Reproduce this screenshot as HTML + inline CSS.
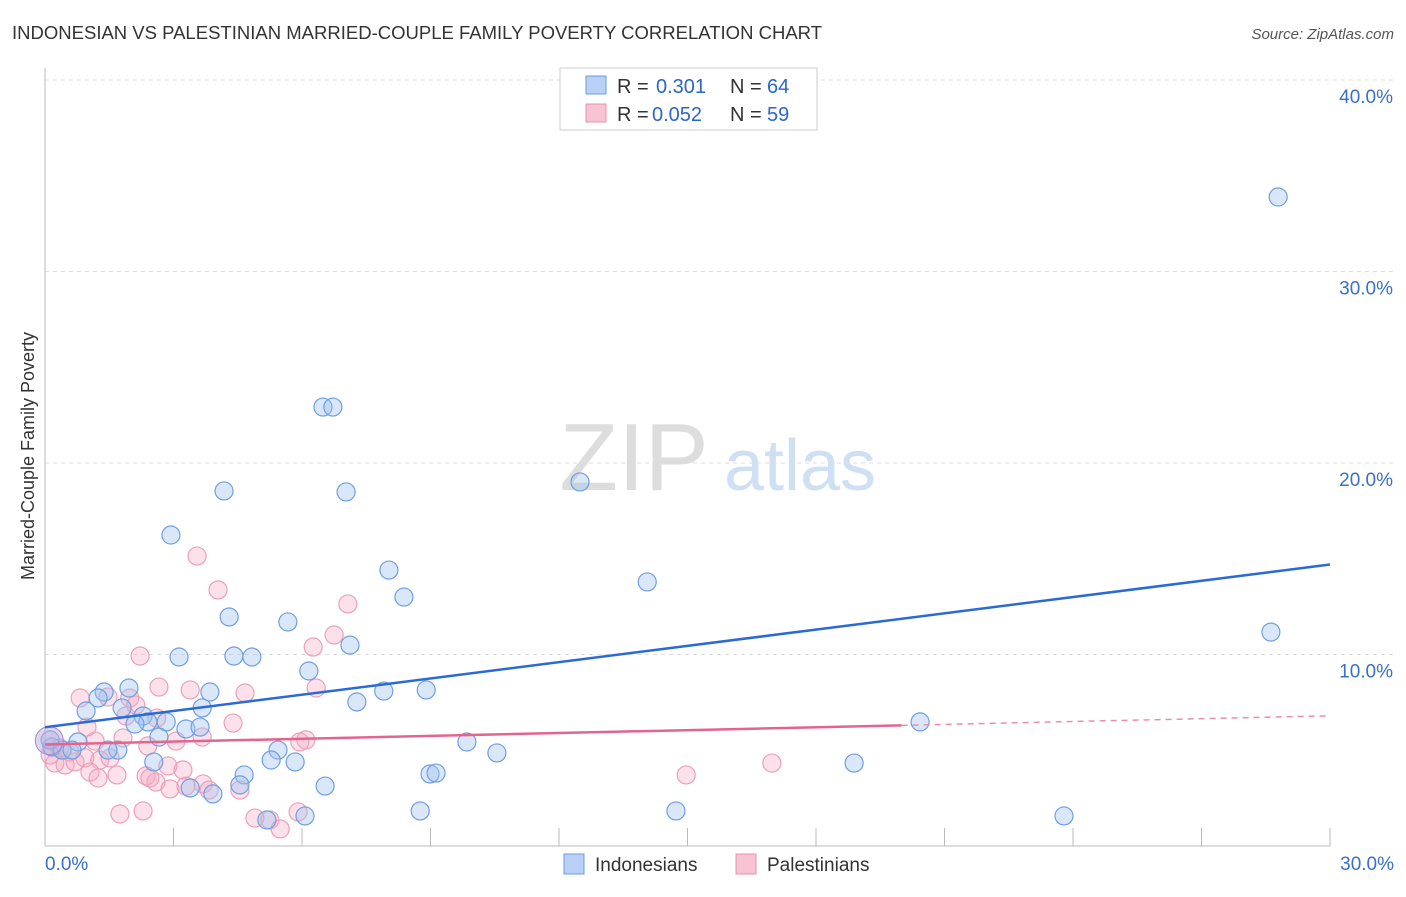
<!DOCTYPE html>
<html><head><meta charset="utf-8"><style>
body{margin:0;background:#fff;font-family:"Liberation Sans",sans-serif}
svg text{font-family:"Liberation Sans",sans-serif}
</style></head><body>
<svg id="c" width="1406" height="892">
<text x="12" y="39" font-size="18.5" fill="#333" textLength="810">INDONESIAN VS PALESTINIAN MARRIED-COUPLE FAMILY POVERTY CORRELATION CHART</text>
<text x="1394" y="39" font-size="15" fill="#555" font-style="italic" text-anchor="end">Source: ZipAtlas.com</text>
<text x="634" y="490" font-size="96" fill="#ddd" font-family="Liberation Serif" text-anchor="middle">ZIP</text>
<text x="800" y="490" font-size="72" fill="#cfe0f5" text-anchor="middle">atlas</text>
<text x="34" y="456" font-size="18" fill="#333" text-anchor="middle" transform="rotate(-90 34 456)">Married-Couple Family Poverty</text>
<g id="grid"></g><g id="pts"></g><g id="lines"></g>
<g>
<rect x="560" y="68" width="257" height="62" fill="#fff" stroke="#ccc"/>
<rect x="586" y="76" width="20" height="18" fill="#b8d0f5" stroke="#6a9be0"/>
<rect x="586" y="104" width="20" height="18" fill="#f8c4d4" stroke="#e890aa"/>
<text x="617" y="93" font-size="20" fill="#333">R = </text><text x="656" y="93" font-size="20" fill="#2b66c8">0.301</text>
<text x="730" y="93" font-size="20" fill="#333">N = </text><text x="767" y="93" font-size="20" fill="#2b66c8">64</text>
<text x="617" y="121" font-size="20" fill="#333">R = </text><text x="652" y="121" font-size="20" fill="#2b66c8">0.052</text>
<text x="730" y="121" font-size="20" fill="#333">N = </text><text x="767" y="121" font-size="20" fill="#2b66c8">59</text>
</g>
<g>
<rect x="564" y="854" width="20" height="20" fill="#b8d0f5" stroke="#6a9be0"/>
<text x="595" y="871" font-size="19" fill="#333">Indonesians</text>
<rect x="736" y="854" width="20" height="20" fill="#f8c4d4" stroke="#e890aa"/>
<text x="767" y="871" font-size="19" fill="#333">Palestinians</text>
</g>
</svg>
<script>
const yTicks=[10,20,30,40];
const yTickLabels=["10.0%","20.0%","30.0%","40.0%"];
const xTickLabels=["0.0%","30.0%"];
const indoX=[28.79,6.49,6.72,4.18,7.03,12.49,2.94,8.03,14.06,8.38,4.30,5.67,28.62,7.12,3.13,4.41,4.83,6.16,1.38,1.96,3.85,7.91,8.90,1.24,0.96,1.80,3.67,7.28,2.29,2.40,2.10,2.83,2.66,3.29,3.62,20.43,0.77,0.16,0.40,0.63,1.70,1.47,5.44,9.85,10.55,5.28,5.84,2.54,18.89,4.65,4.55,8.99,9.13,6.54,3.39,3.92,8.76,14.73,23.79,6.07,5.18,0.12];
const indoY=[33.89,22.92,22.92,18.54,18.49,19.01,16.24,14.41,13.79,13.0,11.96,11.70,11.17,10.49,9.87,9.92,9.87,9.14,8.04,8.25,8.04,8.09,8.15,7.73,7.05,7.21,7.21,7.52,6.79,6.48,6.37,6.48,5.69,6.11,6.21,6.48,5.43,5.17,5.01,5.01,5.01,5.01,5.01,5.43,4.86,4.49,4.39,4.39,4.33,3.71,3.19,3.76,3.81,3.13,3.03,2.72,1.83,1.83,1.57,1.57,1.36,5.54];
const palX=[3.55,4.04,7.07,6.75,6.26,2.22,0.82,2.66,3.39,4.67,6.33,1.47,1.98,1.89,2.12,2.61,4.39,3.67,3.06,6.09,5.95,2.40,1.17,1.82,0.98,0.35,0.58,0.93,1.28,1.52,0.23,0.47,0.70,0.12,1.05,1.68,1.24,2.36,2.87,3.22,2.59,2.45,3.29,2.92,3.69,3.83,4.55,14.97,16.97,1.75,2.29,4.90,5.25,5.49,5.91];
const palY=[15.14,13.37,12.64,11.02,10.39,9.92,7.73,8.30,8.15,7.99,8.25,7.78,7.73,6.79,7.36,6.68,6.42,5.69,5.48,5.54,5.43,5.22,5.48,5.64,6.21,5.12,4.91,4.60,4.49,4.60,4.33,4.23,4.39,4.75,3.86,3.71,3.55,3.66,4.18,3.97,3.34,3.55,3.13,2.98,3.24,2.92,2.92,3.71,4.33,1.67,1.83,1.46,1.36,0.89,1.78];
const indoTrend=[6.2,14.7];
const palTrend=[5.3,6.8];
const NS="http://www.w3.org/2000/svg";
const sx=v=>45+v*(1285/30), sy=v=>846-v*19.15;
function mk(t,a,p){const e=document.createElementNS(NS,t);for(const k in a)e.setAttribute(k,a[k]);p.appendChild(e);return e;}
const g=document.getElementById('grid');
yTicks.forEach((t,i)=>{
 const l=mk('line',{x1:45,x2:1394,y1:sy(t),y2:sy(t),stroke:'#ddd','stroke-dasharray':'4,4'},g);
 
 
 const tx=mk('text',{x:1393,y:sy(t)+23,'font-size':19,fill:'#3a70c8','text-anchor':'end'},g);
 tx.textContent=yTickLabels[i];
 
 
});
mk('line',{x1:45,x2:45,y1:68,y2:846,stroke:'#bbb'},g);
mk('line',{x1:45,x2:1330,y1:846,y2:846,stroke:'#bbb'},g);
for(let i=1;i<=10;i++){const x=sx(i*3);const l=mk('line',{x1:x,x2:x,y1:828,y2:846,stroke:'#bbb'},g);
 
 }
[[0,'start',45],[30,'end',1394]].forEach((d,i)=>{const t=mk('text',{x:d[2],y:870,'font-size':19,fill:'#3a70c8','text-anchor':d[1]},g);t.textContent=xTickLabels[i];
 
 });
const p=document.getElementById('pts');
function pts(X,Y,fill,stroke,name){X.forEach((x,i)=>{const c=mk('circle',{cx:sx(x),cy:sy(Y[i]),r:9,fill:fill,stroke:stroke,'stroke-width':1.2},p);
 
 });}
pts(palX,palY,'rgba(245,170,195,0.35)','#eca0b8','palestinian-point');
pts(indoX,indoY,'rgba(160,195,240,0.4)','#6f9fe2','indonesian-point');
const big=mk('circle',{cx:sx(0.1),cy:sy(5.5),r:14,fill:'rgba(190,170,220,0.5)',stroke:'#a08ad0'},p);


const L=document.getElementById('lines');
const bl=mk('line',{x1:sx(0),y1:sy(indoTrend[0]),x2:sx(30),y2:sy(indoTrend[1]),stroke:'#2a6ad8','stroke-width':2.5},L);


const pm=palTrend[0]+(palTrend[1]-palTrend[0])*20/30;
const pl=mk('line',{x1:sx(0),y1:sy(palTrend[0]),x2:sx(20),y2:sy(pm),stroke:'#e4648e','stroke-width':2.5},L);


const pd=mk('line',{x1:sx(20),y1:sy(pm),x2:sx(30),y2:sy(palTrend[1]),stroke:'#e890aa','stroke-width':1.5,'stroke-dasharray':'6,5'},L);


</script>
</body></html>
